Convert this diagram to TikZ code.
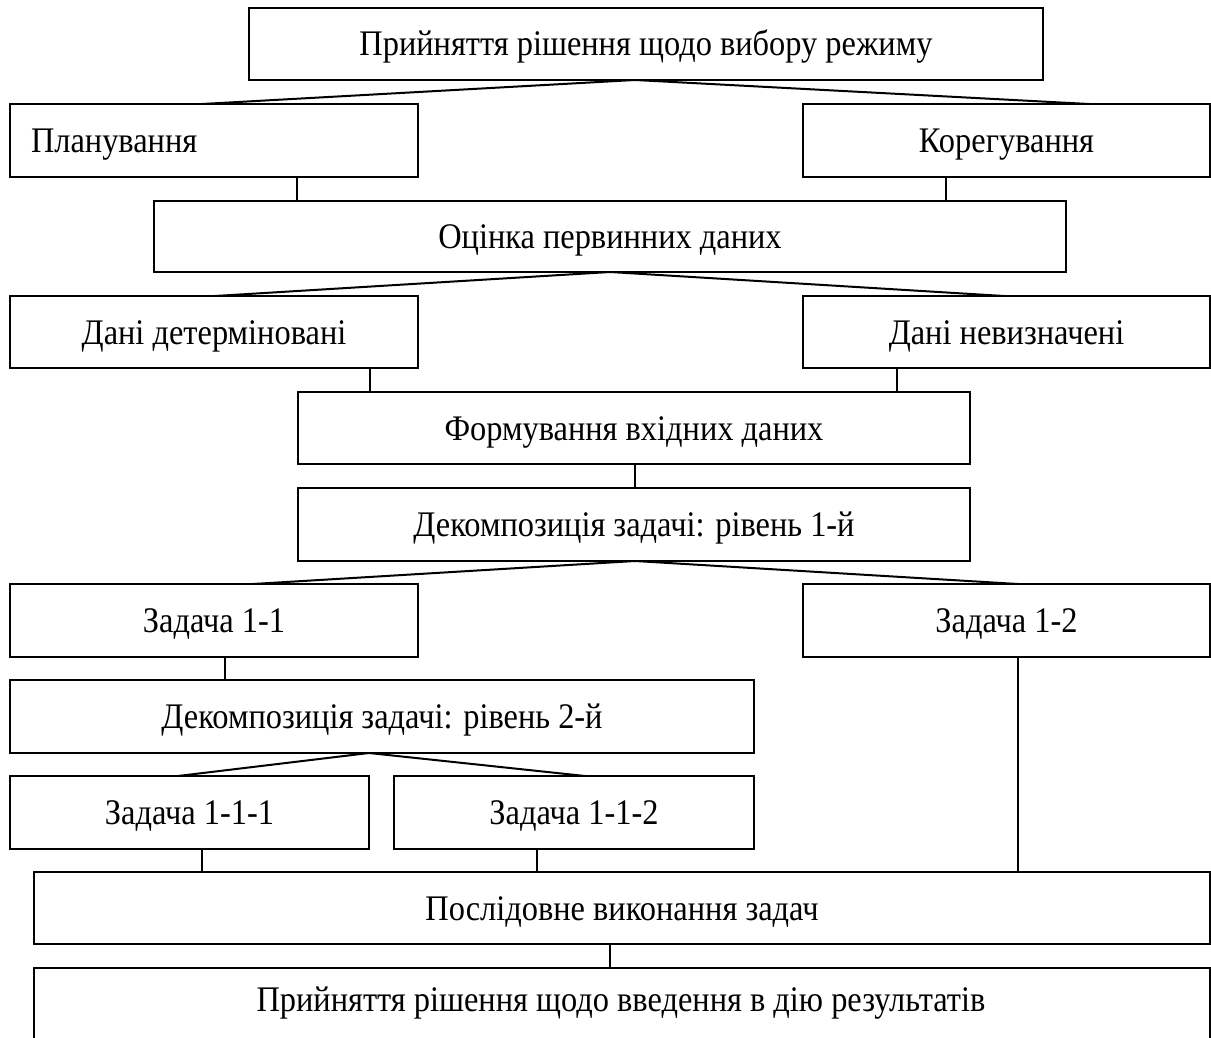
\documentclass[tikz,border=0pt]{standalone}
\usepackage{fontspec}
\setmainfont{Liberation Serif}[FakeStretch=0.9]
\begin{document}
\begin{tikzpicture}[x=1pt,y=-1pt,
  box/.style={draw=black,line width=1.6pt,rectangle,inner sep=0pt,outer sep=0pt,
    font=\fontsize{36}{40}\selectfont,text height=24pt,text depth=0pt},
  vcon/.style={draw=black,line width=1.4pt},
  dcon/.style={draw=black,line width=2pt,line cap=round}]
\useasboundingbox (0,0) rectangle (1211,1038);
\clip (0,0) rectangle (1211,1038);
\newcommand\bx[6]{\node[box,minimum width={#4-#2},minimum height={#5-#3}] (#1) at ({(#2+#4)/2},{(#3+#5)/2}) {#6};}
\bx{top}{249}{8}{1043}{80}{Прийняття рішення щодо вибору режиму}
\bx{plan}{10}{104}{418}{177}{\makebox[408pt][l]{\hspace*{21pt}Планування}}
\bx{kor}{803}{104}{1210}{177}{Корегування}
\bx{ocin}{154}{201}{1066}{272}{Оцінка первинних даних}
\bx{dd}{10}{296}{418}{368}{Дані детерміновані}
\bx{dn}{803}{296}{1210}{368}{Дані невизначені}
\bx{form}{298}{392}{970}{464}{Формування вхідних даних}
\bx{decA}{298}{488}{970}{561}{Декомпозиція задачі: рівень 1-й}
\bx{zA}{10}{584}{418}{657}{Задача 1-1}
\bx{zB}{803}{584}{1210}{657}{Задача 1-2}
\bx{decB}{10}{680}{754}{753}{Декомпозиція задачі: рівень 2-й}
\bx{zAA}{10}{776}{369}{849}{Задача 1-1-1}
\bx{zAB}{394}{776}{754}{849}{Задача 1-1-2}
\bx{posl}{34}{872}{1210}{944}{Послідовне виконання задач}
\node[box,minimum width=1176,minimum height=92,text height=0pt] (res) at (622,1014) {};
\node[font=\fontsize{36}{40}\selectfont,anchor=base,inner sep=0pt] (rest) at (621,1011) {Прийняття рішення щодо введення в дію результатів};
% x positions of the connectors
\foreach \n/\x in {a/635,b/202,c/1089,d/297,e/946,f/610,g/215,h/1004,i/370,j/897,k/635,l/253,m/1018,n/225,o/369,p/178,q/585,r/202,s/537,t/610}
  \coordinate (x\n) at (\x,0);
\draw[dcon] (top.south -| xa) -- (plan.north -| xb);
\draw[dcon] (top.south -| xa) -- (kor.north -| xc);
\draw[vcon] (plan.south -| xd) -- (ocin.north -| xd);
\draw[vcon] (kor.south -| xe) -- (ocin.north -| xe);
\draw[dcon] (ocin.south -| xf) -- (dd.north -| xg);
\draw[dcon] (ocin.south -| xf) -- (dn.north -| xh);
\draw[vcon] (dd.south -| xi) -- (form.north -| xi);
\draw[vcon] (dn.south -| xj) -- (form.north -| xj);
\draw[vcon] (form.south -| xk) -- (decA.north -| xk);
\draw[dcon] (decA.south -| xk) -- (zA.north -| xl);
\draw[dcon] (decA.south -| xk) -- (zB.north -| xm);
\draw[vcon] (zA.south -| xn) -- (decB.north -| xn);
\draw[vcon] (zB.south -| xm) -- (posl.north -| xm);
\draw[dcon] (decB.south -| xo) -- (zAA.north -| xp);
\draw[dcon] (decB.south -| xo) -- (zAB.north -| xq);
\draw[vcon] (zAA.south -| xr) -- (posl.north -| xr);
\draw[vcon] (zAB.south -| xs) -- (posl.north -| xs);
\draw[vcon] (posl.south -| xt) -- (res.north -| xt);
\end{tikzpicture}
\end{document}
